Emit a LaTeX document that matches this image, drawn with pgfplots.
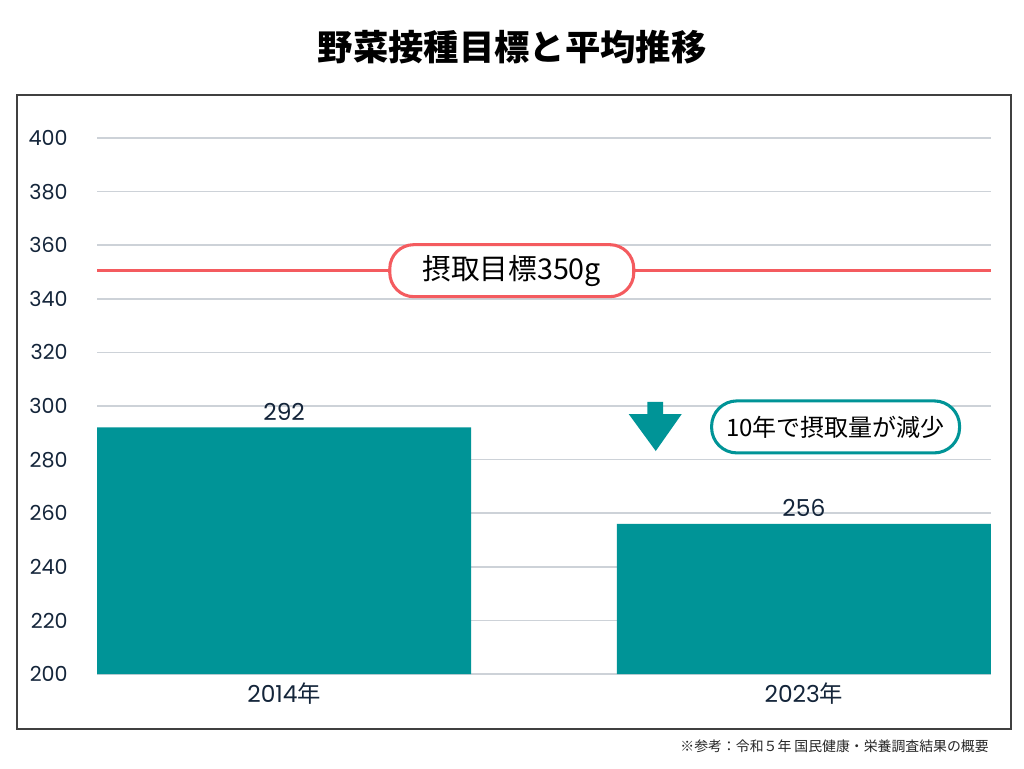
\documentclass[border=0pt]{standalone}
\usepackage{pgfplots}
\pgfplotsset{compat=1.18}
\usepackage{fontspec}
\setmainfont{Poppins}
\newfontfamily\jp{Noto Sans CJK JP}
\definecolor{teal}{HTML}{009497}
\definecolor{goal}{HTML}{F45B5F}
\definecolor{navy}{HTML}{14253A}
\definecolor{gridc}{HTML}{CDD2D8}
\begin{document}
\begin{tikzpicture}
% page: 1024x768 px at 0.75pt per px, origin top left
\useasboundingbox[fill=white] (0,0) rectangle (768pt,-576pt);
\draw[line width=1.1pt, black!75] (12.75pt,-71.25pt) rectangle (758.25pt,-546.75pt);
\node[font=\jp\bfseries\fontsize{26.5}{30}\selectfont] at (384pt,-35.25pt) {野菜接種目標と平均推移};
\node[font=\jp\fontsize{10.4}{12}\selectfont, anchor=east, text=black!85] at (745pt,-559.5pt) {※参考：令和５年 国民健康・栄養調査結果の概要};
\begin{axis}[
  at={(72.75pt,-505.5pt)}, anchor=south west,
  width=670.5pt, height=402pt, scale only axis,
  ybar, bar width=280.5pt, bar shift=0pt,
  xmin=-0.36, xmax=1.36, ymin=200, ymax=400,
  xtick={0,1}, xticklabels={2014{\jp 年},2023{\jp 年}},
  ytick={200,220,...,400},
  axis line style={draw=none}, major tick length=0pt,
  ymajorgrids, grid style={gridc, line width=1.2pt},
  xticklabel style={text=navy, font=\fontsize{17.5}{20}\selectfont, yshift=-3pt},
  yticklabel style={text=navy, font=\fontsize{15.5}{18}\selectfont, xshift=-18.5pt},
  /pgf/number format/assume math mode=true,
  /pgf/number format/1000 sep={},
  nodes near coords,
  every node near coord/.append style={text=navy, font=\fontsize{17.5}{20}\selectfont, yshift=2pt},
  clip=false,
]
\addplot[fill=teal, draw=none] coordinates {(0,292) (1,256)};
\addplot[goal, line width=2.3pt, nodes near coords={}, sharp plot] coordinates {(-0.36,350.5) (1.36,350.5)};
\fill[teal] (axis cs:0.699,301.5) -- (axis cs:0.729,301.5) -- (axis cs:0.729,297) -- (axis cs:0.765,297)
  -- (axis cs:0.715,283.2) -- (axis cs:0.663,297) -- (axis cs:0.699,297) -- cycle;
\node[draw=goal, line width=2.3pt, fill=white, rounded corners=18pt, minimum width=183pt, minimum height=39pt,
  font=\jp\fontsize{21.5}{25}\selectfont, inner sep=0pt] at (axis cs:0.438,350.5) {摂取目標350g};
\node[draw=teal, line width=2.3pt, fill=white, rounded corners=19pt, minimum width=186pt, minimum height=39pt,
  font=\jp\fontsize{18}{21}\selectfont, inner sep=0pt] at (axis cs:1.061,292.2) {10年で摂取量が減少};
\end{axis}
\end{tikzpicture}
\end{document}
